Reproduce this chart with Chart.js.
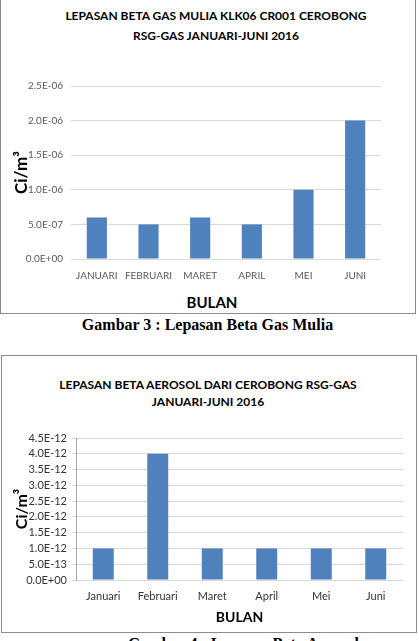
<!DOCTYPE html>
<html>
<head>
<meta charset="utf-8">
<script src="https://cdn.jsdelivr.net/npm/chart.js@4"></script>
<style>
html,body{margin:0;padding:0;background:#fff;}
body{width:419px;height:641px;overflow:hidden;position:relative;font-family:Lato,sans-serif;}
.box{position:absolute;border:1px solid #8c8c8c;box-sizing:border-box;}
#b1{left:0;top:-5px;width:416px;height:319px;}
#b2{left:1px;top:355px;width:416px;height:278px;}
canvas{position:absolute;left:0;}
#c1{top:0;}
#c2{top:356px;}
.ttl{position:absolute;text-align:center;font-weight:bold;font-size:12px;color:#000;white-space:nowrap;}
#t1{left:16px;width:400px;top:6px;line-height:20px;}
#t2{left:8px;width:400px;top:376px;line-height:17px;}
#x1{position:absolute;left:162px;width:100px;text-align:center;top:292px;line-height:20px;font-weight:bold;font-size:15px;}
.cap{position:absolute;font-family:"Liberation Serif",serif;font-weight:bold;font-size:16px;line-height:16px;white-space:nowrap;color:#000;}
#cap1{left:0;width:415px;text-align:center;top:317px;}
#cap2{left:128px;top:636px;}
</style>
</head>
<body>
<div class="box" id="b1"></div>
<div class="box" id="b2"></div>
<div class="ttl" id="t1">LEPASAN BETA GAS MULIA KLK06 CR001 CEROBONG<br>RSG-GAS JANUARI-JUNI 2016</div>
<div class="ttl" id="t2">LEPASAN BETA AEROSOL DARI CEROBONG RSG-GAS<br>JANUARI-JUNI 2016</div>
<div id="x1">BULAN</div>
<div class="cap" id="cap1">Gambar 3 : Lepasan Beta Gas Mulia</div>
<div class="cap" id="cap2">Gambar 4 : Lepasan Beta Aerosol</div>
<canvas id="c1" width="419" height="313"></canvas>
<canvas id="c2" width="419" height="276"></canvas>
<script>
const months1 = ['JANUARI','FEBRUARI','MARET','APRIL','MEI','JUNI'];
const values1 = [6e-7, 5e-7, 6e-7, 5e-7, 1e-6, 2e-6];
const yTicks1 = [0, 5e-7, 1e-6, 1.5e-6, 2e-6, 2.5e-6];
const yLabels1 = ['0.0E+00','5.0E-07','1.0E-06','1.5E-06','2.0E-06','2.5E-06'];

const months2 = ['Januari','Februari','Maret','April','Mei','Juni'];
const values2 = [1e-12, 4e-12, 1e-12, 1e-12, 1e-12, 1e-12];
const yTicks2 = [0, 5e-13, 1e-12, 1.5e-12, 2e-12, 2.5e-12, 3e-12, 3.5e-12, 4e-12, 4.5e-12];
const yLabels2 = ['0.0E+00','5.0E-13','1.0E-12','1.5E-12','2.0E-12','2.5E-12','3.0E-12','3.5E-12','4.0E-12','4.5E-12'];

const BAR = '#4f81bd';

new Chart(document.getElementById('c1'), {
  type: 'bar',
  data: { labels: months1, datasets: [{ data: values1, backgroundColor: BAR, barPercentage: 0.39, categoryPercentage: 1 }] },
  options: {
    responsive: false, animation: false,
    layout: { padding: { top: 86, right: 38, left: 0, bottom: 0 } },
    plugins: { legend: { display: false }, tooltip: { enabled: false }, title: { display: false } },
    scales: {
      x: {
        grid: { display: false, drawTicks: false },
        border: { display: false },
        ticks: { padding: 11, color: '#595959', font: { family: 'Lato', size: 10 }, maxRotation: 0, autoSkip: false },
        afterFit(s) { s.height = 54; }
      },
      y: {
        min: 0, max: 2.5e-6,
        afterBuildTicks(s) { s.ticks = yTicks1.map(v => ({ value: v })); },
        grid: { color: '#d9d9d9', drawTicks: false },
        border: { display: false },
        ticks: { padding: 8, color: '#595959', autoSkip: false, font: { family: 'Lato', size: 10 }, callback: (v, i) => yLabels1[i] },
        title: { display: true, text: 'Ci/m³', color: '#000', font: { family: 'Lato', size: 17, weight: 'bold' }, padding: { top: 11, bottom: 0 } },
        afterFit(s) { s.width = 71; }
      }
    }
  }
});

new Chart(document.getElementById('c2'), {
  type: 'bar',
  data: { labels: months2, datasets: [{ data: values2, backgroundColor: BAR, barPercentage: 0.385, categoryPercentage: 1 }] },
  options: {
    responsive: false, animation: false,
    layout: { padding: { top: 82, right: 16, left: 0, bottom: 0 } },
    plugins: { legend: { display: false }, tooltip: { enabled: false }, title: { display: false } },
    scales: {
      x: {
        grid: { display: false, drawTicks: false },
        border: { display: false },
        ticks: { padding: 10, color: '#333333', font: { family: 'Lato', size: 11 }, maxRotation: 0, autoSkip: false },
        title: { display: true, text: 'BULAN', color: '#000', font: { family: 'Lato', size: 14, weight: 'bold' }, padding: { top: 0, bottom: 6.6 } },
        afterFit(s) { s.height = 52; }
      },
      y: {
        min: 0, max: 4.5e-12,
        afterBuildTicks(s) { s.ticks = yTicks2.map(v => ({ value: v })); },
        grid: { color: '#d9d9d9', drawTicks: true, tickLength: 4 },
        border: { display: true, color: '#a6a6a6' },
        ticks: { padding: 5, color: '#333333', autoSkip: false, font: { family: 'Lato', size: 11 }, callback: (v, i) => yLabels2[i] },
        title: { display: true, text: 'Ci/m³', color: '#000', font: { family: 'Lato', size: 16, weight: 'bold' }, padding: { top: 12, bottom: 0 } },
        afterFit(s) { s.width = 76; }
      }
    }
  }
});
</script>
</body>
</html>
